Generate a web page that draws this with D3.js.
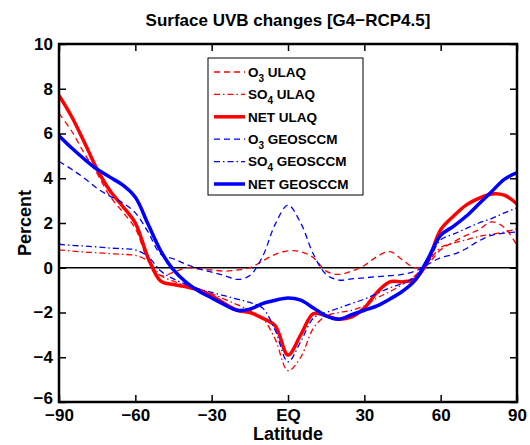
<!DOCTYPE html>
<html>
<head>
<meta charset="utf-8">
<script src="https://cdn.jsdelivr.net/npm/d3@7"></script>
<style>
  body { margin: 0; background: #fff; }
  svg text { font-family: "Liberation Sans", Arial, Helvetica, sans-serif; font-weight: bold; }
</style>
</head>
<body>
<svg id="chart"></svg>
<script>
// latitude grid (degrees)
const lats = d3.range(-90, 91, 5);

// series values (percent), one per latitude
const o3Ulaq   = [6.9, 6.1, 5.1, 4.2, 3.2, 2.5, 1.75, 0.35, -0.35, -0.2, 0.0, -0.05, -0.1, -0.15, -0.1, 0.0, 0.3, 0.6, 0.75,
                  0.72, 0.45, -0.15, -0.3, -0.15, 0.1, 0.5, 0.72, 0.35, 0.0, 0.2, 0.8, 1.15, 1.45, 1.7, 2.05, 1.8, 1.0];
const so4Ulaq  = [0.8, 0.75, 0.7, 0.67, 0.63, 0.6, 0.55, 0.3, -0.35, -0.6, -0.8, -0.95, -1.15, -1.4, -1.65, -1.9, -2.25, -3.2, -4.6,
                  -4.0, -2.7, -2.15, -2.0, -1.9, -1.7, -1.35, -1.07, -0.75, -0.35, 0.25, 0.9, 1.1, 1.25, 1.4, 1.5, 1.6, 1.75];
const netUlaq  = [7.7, 6.75, 5.6, 4.4, 3.45, 2.75, 2.0, 0.45, -0.6, -0.75, -0.85, -1.0, -1.25, -1.6, -1.9, -2.0, -2.25, -2.6, -3.9,
                  -3.0, -2.05, -2.15, -2.3, -2.2, -1.8, -1.1, -0.63, -0.63, -0.5, 0.3, 1.7, 2.3, 2.8, 3.1, 3.3, 3.25, 2.85];
const o3Geos   = [4.75, 4.4, 4.0, 3.55, 3.2, 2.9, 2.45, 1.6, 0.6, 0.4, 0.15, -0.05, -0.2, -0.35, -0.52, -0.35, 0.5, 1.95, 2.8,
                  2.0, 0.6, -0.3, -0.55, -0.5, -0.45, -0.4, -0.35, -0.3, -0.15, 0.15, 0.45, 0.6, 0.85, 1.2, 1.45, 1.55, 1.6];
const so4Geos  = [1.05, 1.0, 0.97, 0.93, 0.88, 0.85, 0.8, 0.5, -0.15, -0.5, -0.75, -0.95, -1.1, -1.25, -1.4, -1.55, -1.8, -2.8, -4.2,
                  -3.3, -2.25, -2.0, -1.8, -1.6, -1.4, -1.15, -0.9, -0.7, -0.4, 0.25, 1.25, 1.5, 1.75, 2.0, 2.2, 2.45, 2.68];
const netGeos  = [5.9, 5.35, 4.85, 4.4, 4.05, 3.7, 3.15, 1.95, 0.75, -0.1, -0.65, -1.05, -1.35, -1.65, -1.9, -1.85, -1.6, -1.45, -1.35,
                  -1.45, -1.8, -2.15, -2.3, -2.1, -1.9, -1.7, -1.4, -1.05, -0.55, 0.4, 1.45, 1.85, 2.3, 2.85, 3.4, 3.95, 4.25];

const xTicks = [-90, -60, -30, 0, 30, 60, 90];
const xTickLabels = ["\u221290", "\u221260", "\u221230", "EQ", "30", "60", "90"];
const yTicks = [-6, -4, -2, 0, 2, 4, 6, 8, 10];

// legend entries: species, subscript, model
const seriesList = [
  {name: "O", sub: "3", model: " ULAQ", values: o3Ulaq, color: "#ff0000", width: 1.3, dash: "6,4"},
  {name: "SO", sub: "4", model: " ULAQ", values: so4Ulaq, color: "#ff0000", width: 1.3, dash: "6,3,1.5,3"},
  {name: "NET ULAQ", sub: "", model: "", values: netUlaq, color: "#ff0000", width: 3.5, dash: null},
  {name: "O", sub: "3", model: " GEOSCCM", values: o3Geos, color: "#0000ff", width: 1.3, dash: "6,4"},
  {name: "SO", sub: "4", model: " GEOSCCM", values: so4Geos, color: "#0000ff", width: 1.3, dash: "6,3,1.5,3"},
  {name: "NET GEOSCCM", sub: "", model: "", values: netGeos, color: "#0000ff", width: 3.5, dash: null}
];

const width = 530, height = 445;
const margin = {top: 44, right: 13, bottom: 43, left: 59};

const svg = d3.select("#chart")
    .attr("width", width)
    .attr("height", height);

const xScale = d3.scaleLinear().domain([-90, 90]).range([margin.left, width - margin.right]);
const yScale = d3.scaleLinear().domain([-6, 10]).range([height - margin.bottom, margin.top]);

// clip so the thick lines stay in the box
svg.append("clipPath").attr("id", "plotclip")
  .append("rect")
    .attr("x", margin.left).attr("y", margin.top)
    .attr("width", xScale(90) - xScale(-90))
    .attr("height", yScale(-6) - yScale(10));

// zero line
svg.append("line")
    .attr("x1", xScale(-90)).attr("x2", xScale(90))
    .attr("y1", yScale(0)).attr("y2", yScale(0))
    .attr("stroke", "black")
    .attr("stroke-width", 1.5);

const line = d3.line()
    .x((d, i) => xScale(lats[i]))
    .y(d => yScale(d))
    .curve(d3.curveCatmullRom.alpha(0.5));

svg.append("g")
    .attr("clip-path", "url(#plotclip)")
  .selectAll("path")
  .data(seriesList)
  .enter()
  .append("path")
    .attr("d", d => line(d.values))
    .attr("fill", "none")
    .attr("stroke", d => d.color)
    .attr("stroke-width", d => d.width)
    .attr("stroke-dasharray", d => d.dash);

// axes, ticks pointing inward on all four sides
const tickLen = 7;
svg.append("g")
    .attr("transform", "translate(0," + yScale(-6) + ")")
    .call(d3.axisBottom(xScale).tickValues(xTicks).tickSizeInner(-tickLen).tickSizeOuter(0)
          .tickFormat((d, i) => xTickLabels[i]))
    .call(g => g.select(".domain").remove())
    .call(g => g.selectAll("line").attr("stroke-width", 1.5))
    .call(g => g.selectAll("text").style("font-size", "17px").attr("fill", "black").attr("dy", "0.72em").attr("y", 7));

svg.append("g")
    .attr("transform", "translate(0," + yScale(10) + ")")
    .call(d3.axisTop(xScale).tickValues(xTicks).tickSizeInner(-tickLen).tickSizeOuter(0).tickFormat(""))
    .call(g => g.select(".domain").remove())
    .call(g => g.selectAll("line").attr("stroke-width", 1.5));

svg.append("g")
    .attr("transform", "translate(" + xScale(-90) + ",0)")
    .call(d3.axisLeft(yScale).tickValues(yTicks).tickSizeInner(-tickLen).tickSizeOuter(0)
          .tickFormat(d => d < 0 ? "\u2212" + Math.abs(d) : d))
    .call(g => g.select(".domain").remove())
    .call(g => g.selectAll("line").attr("stroke-width", 1.5))
    .call(g => g.selectAll("text").style("font-size", "17px").attr("fill", "black").attr("x", -6)
          .attr("dy", d => d === -6 ? "0.1em" : "0.32em"));

svg.append("g")
    .attr("transform", "translate(" + xScale(90) + ",0)")
    .call(d3.axisRight(yScale).tickValues(yTicks).tickSizeInner(-tickLen).tickSizeOuter(0).tickFormat(""))
    .call(g => g.select(".domain").remove())
    .call(g => g.selectAll("line").attr("stroke-width", 1.5));

// box
svg.append("rect")
    .attr("x", xScale(-90)).attr("y", yScale(10))
    .attr("width", xScale(90) - xScale(-90))
    .attr("height", yScale(-6) - yScale(10))
    .attr("fill", "none")
    .attr("stroke", "black")
    .attr("stroke-width", 2.5);

// title and axis labels
svg.append("text")
    .attr("x", (xScale(-90) + xScale(90)) / 2)
    .attr("y", 26)
    .attr("text-anchor", "middle")
    .style("font-size", "17px")
    .text("Surface UVB changes [G4\u2212RCP4.5]");

svg.append("text")
    .attr("x", (xScale(-90) + xScale(90)) / 2)
    .attr("y", 440)
    .attr("text-anchor", "middle")
    .style("font-size", "18px")
    .text("Latitude");

svg.append("text")
    .attr("transform", "translate(31," + yScale(2) + ") rotate(-90)")
    .attr("text-anchor", "middle")
    .style("font-size", "18px")
    .text("Percent");

// legend
const legend = svg.append("g");
legend.append("rect")
    .attr("x", 208).attr("y", 58)
    .attr("width", 155).attr("height", 137)
    .attr("fill", "white")
    .attr("stroke", "black")
    .attr("stroke-width", 1);

const rows = legend.selectAll("g.row")
    .data(seriesList)
    .enter()
    .append("g")
    .attr("class", "row")
    .attr("transform", (d, i) => "translate(0," + (72 + i * 22.4) + ")");

rows.append("line")
    .attr("x1", 214).attr("x2", 245)
    .attr("stroke", d => d.color)
    .attr("stroke-width", d => d.width)
    .attr("stroke-dasharray", d => d.dash);

const labels = rows.append("text")
    .attr("x", 248)
    .attr("dy", "0.35em")
    .style("font-size", "13.5px");
labels.append("tspan").text(d => d.name);
labels.filter(d => d.sub).append("tspan")
    .attr("dy", 5).style("font-size", "10px").text(d => d.sub);
labels.filter(d => d.sub).append("tspan")
    .attr("dy", -5).text(d => d.model);
</script>
</body>
</html>
